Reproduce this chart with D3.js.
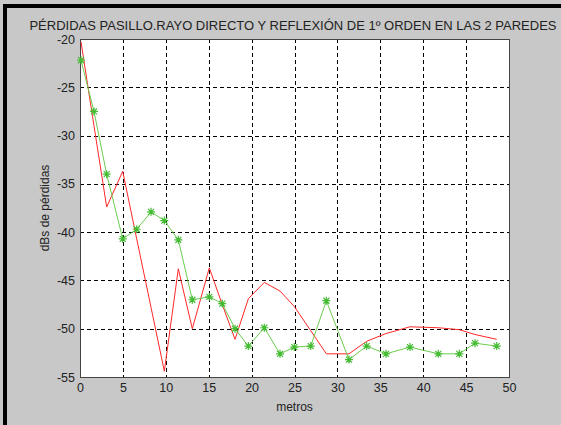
<!DOCTYPE html>
<html>
<head>
<meta charset="utf-8">
<script src="https://cdn.jsdelivr.net/npm/d3@7"></script>
<style>
  body { margin: 0; background: #c8c8c8; }
  svg text { font-family: "Liberation Sans", Arial, sans-serif; fill: #222; }
</style>
</head>
<body>
<div id="chart"></div>
<script>
// distances (m) where the samples were taken
var metros = [0.12, 1.63, 3.11, 4.98, 6.61, 8.28, 9.83, 11.46, 13.09, 15.07, 16.58, 18.07, 19.62,
  21.48, 23.31, 24.98, 26.89, 28.71, 31.35, 33.41, 35.66, 38.46, 41.76, 44.21, 46.04, 48.57]

// green series, star markers
var perdidasMedidas = [-22.2, -27.5, -34.0, -40.7, -39.7, -37.9, -38.8, -40.8, -47.0, -46.7, -47.4, -50.0, -51.8,
  -49.9, -52.6, -51.9, -51.8, -47.1, -53.2, -51.8, -52.6, -51.9, -52.6, -52.6, -51.5, -51.8]

// red series, plain line
var perdidasModelo = [-20.3, -29.0, -37.4, -33.7, -40.7, -47.8, -54.4, -43.8, -50.0, -43.7, -47.5, -51.1, -46.9,
  -45.2, -46.1, -47.7, -50.2, -52.6, -52.6, -51.3, -50.5, -49.8, -49.9, -50.1, -50.6, -51.1]

var xTicks = [0, 5, 10, 15, 20, 25, 30, 35, 40, 45, 50]
var yTicks = [-20, -25, -30, -35, -40, -45, -50, -55]

var width = 561,
  height = 425
var margin = { top: 39, right: 52, bottom: 48, left: 80 }

var svg = d3.select("#chart")
  .append("svg")
  .attr("width", width)
  .attr("height", height)

// window frame
svg.append("rect")
  .attr("width", width).attr("height", height)
  .attr("fill", "#c8c8c8")
svg.append("rect")
  .attr("x", 3).attr("y", 4).attr("width", width - 3).attr("height", 4)
  .attr("fill", "#000")
svg.append("rect")
  .attr("x", 3).attr("y", 4).attr("width", 4).attr("height", height - 4)
  .attr("fill", "#000")

var xScale = d3.scaleLinear()
  .domain([0, 50])
  .range([margin.left, width - margin.right])

var yScale = d3.scaleLinear()
  .domain([-20, -55])
  .range([margin.top, height - margin.bottom])

// plot background
svg.append("rect")
  .attr("x", xScale(0))
  .attr("y", yScale(-20))
  .attr("width", xScale(50) - xScale(0))
  .attr("height", yScale(-55) - yScale(-20))
  .attr("fill", "white")

// dashed grid
var gridG = svg.append("g").attr("class", "grid")
gridG.selectAll(".vgrid")
  .data(xTicks.slice(1, -1))
  .enter()
  .append("line")
  .attr("x1", d => Math.round(xScale(d)) + 0.5)
  .attr("x2", d => Math.round(xScale(d)) + 0.5)
  .attr("y1", yScale(-20))
  .attr("y2", yScale(-55))
  .attr("stroke", "#000")
  .attr("stroke-dasharray", "4,3")

gridG.selectAll(".hgrid")
  .data(yTicks.slice(1, -1))
  .enter()
  .append("line")
  .attr("y1", d => Math.round(yScale(d)) + 0.5)
  .attr("y2", d => Math.round(yScale(d)) + 0.5)
  .attr("x1", xScale(0))
  .attr("x2", xScale(50))
  .attr("stroke", "#000")
  .attr("stroke-dasharray", "4,3")

// axes
var xAxis = d3.axisBottom(xScale)
  .tickValues(xTicks)
  .tickSize(0)
  .tickPadding(6)
  .tickFormat(d => d)

var yAxis = d3.axisLeft(yScale)
  .tickValues(yTicks)
  .tickSize(0)
  .tickPadding(5)
  .tickFormat(d => d)

svg.append("g")
  .attr("transform", `translate(0,${yScale(-55)})`)
  .attr("class", "x-axis")
  .call(xAxis)
  .call(g => g.select(".domain").remove())
  .selectAll("text")
  .style("font-size", "12.5px")

svg.append("g")
  .attr("transform", `translate(${xScale(0)},0)`)
  .attr("class", "y-axis")
  .call(yAxis)
  .call(g => g.select(".domain").remove())
  .selectAll("text")
  .style("font-size", "12.5px")

// box round the plot
svg.append("rect")
  .attr("x", xScale(0) + 0.5)
  .attr("y", yScale(-20) + 0.5)
  .attr("width", xScale(50) - xScale(0))
  .attr("height", yScale(-55) - yScale(-20))
  .attr("fill", "none")
  .attr("stroke", "#444")

// lines
var line = d3.line()
  .x((d, i) => xScale(metros[i]))
  .y(d => yScale(d))

svg.append("path")
  .datum(perdidasModelo)
  .attr("d", line)
  .attr("fill", "none")
  .attr("stroke", "#ff2828")
  .attr("stroke-width", 1)

svg.append("path")
  .datum(perdidasMedidas)
  .attr("d", line)
  .attr("fill", "none")
  .attr("stroke", "#6ccc50")
  .attr("stroke-width", 1)

// asterisk markers
var star = "M-4,0H4M0,-4V4M-3,-3L3,3M-3,3L3,-3"
svg.selectAll(".dot")
  .data(perdidasMedidas)
  .enter()
  .append("path")
  .attr("class", "dot")
  .attr("transform", (d, i) => `translate(${xScale(metros[i])},${yScale(d)})`)
  .attr("d", star)
  .attr("stroke", "#44bb33")
  .attr("stroke-width", 1.2)
  .attr("fill", "none")

// labels
svg.append("text")
  .attr("x", 293)
  .attr("y", 30)
  .attr("text-anchor", "middle")
  .style("font-size", "13px")
  .text("PÉRDIDAS PASILLO.RAYO DIRECTO Y REFLEXIÓN DE 1º ORDEN EN LAS 2 PAREDES")

svg.append("text")
  .attr("x", xScale(25))
  .attr("y", 411)
  .attr("text-anchor", "middle")
  .style("font-size", "12px")
  .text("metros")

svg.append("text")
  .attr("transform", `translate(49,${yScale(-37.5)}) rotate(-90)`)
  .attr("text-anchor", "middle")
  .style("font-size", "12px")
  .text("dBs de pérdidas")
</script>
</body>
</html>
